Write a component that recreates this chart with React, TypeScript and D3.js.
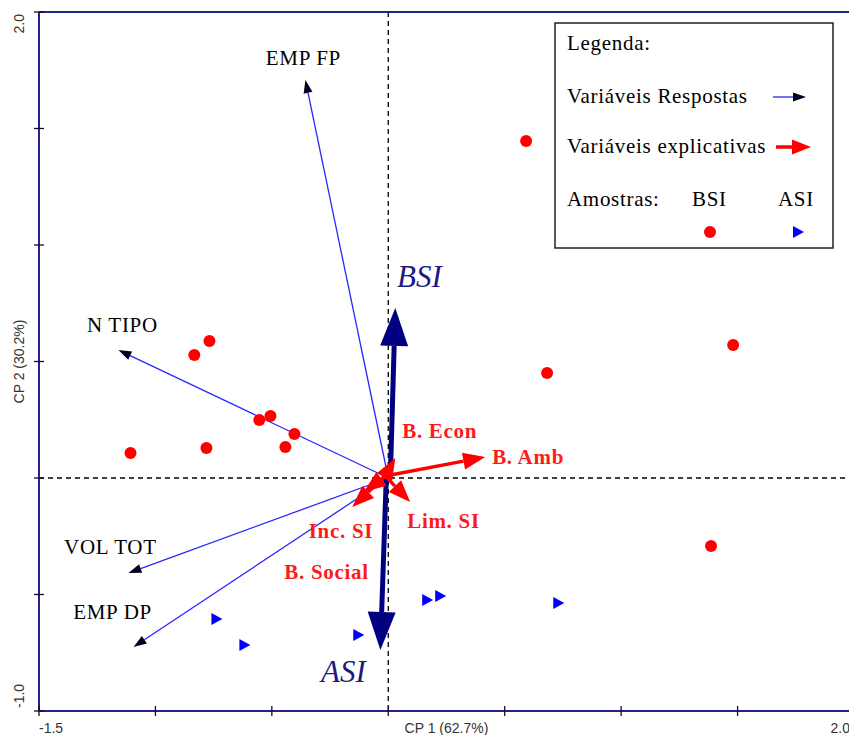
import React from "react";
import * as d3 from "d3";

// ---- data ----
const responseNames = ["EMP FP", "N TIPO", "VOL TOT", "EMP DP"];
const responseX = [-0.356, -1.159, -1.116, -1.094];
const responseY = [1.708, 0.549, -0.408, -0.725];

const explanatoryNames = ["B. Econ", "B. Amb", "Lim. SI", "Inc. SI", "B. Social"];
const explanatoryX = [0.03, 0.416, 0.094, -0.155, -0.105];
const explanatoryY = [0.086, 0.09, -0.103, -0.124, -0.06];

const groupNames = ["BSI", "ASI"];
const groupX = [0.03, -0.034];
const groupY = [0.73, -0.738];

const bsiX = [0.592, -0.768, -0.833, 0.682, 1.481, -0.506, -0.554, -0.403, -0.442, -0.781, -1.107, 1.386];
const bsiY = [1.446, 0.588, 0.528, 0.451, 0.571, 0.266, 0.249, 0.189, 0.133, 0.129, 0.107, -0.292];

const asiX = [-0.738, -0.618, -0.129, 0.167, 0.223, 0.73];
const asiY = [-0.605, -0.717, -0.674, -0.524, -0.506, -0.536];

const xTicks = [-1.5, -1.0, -0.5, 0, 0.5, 1.0, 1.5, 2.0];
const yTicks = [-1.0, -0.5, 0, 0.5, 1.0, 1.5, 2.0];
const xTitle = "CP 1 (62.7%)";
const yTitle = "CP 2 (30.2%)";

// ---- layout (label offsets in px) ----
const responseLabelOffset = [
  [-2, -15],
  [4, -18],
  [-18, -19],
  [-21, -28],
];
const explanatoryLabelPos = [
  [7, -20, "start"],
  [7, 7, "start"],
  [-3, 26, "start"],
  [21, 31, "end"],
  [5, 87, "end"],
];

function head(x1: number, y1: number, x2: number, y2: number, len: number, w: number) {
  const dx = x2 - x1, dy = y2 - y1;
  const L = Math.hypot(dx, dy) || 1;
  const ux = dx / L, uy = dy / L;
  const bx = x2 - ux * len, by = y2 - uy * len;
  const nx = -uy, ny = ux;
  return {
    pts: `${x2},${y2} ${bx + nx * w / 2},${by + ny * w / 2} ${bx - nx * w / 2},${by - ny * w / 2}`,
    bx,
    by,
  };
}

export default function App() {
  const x = d3.scaleLinear().domain([-1.5, 2.0]).range([39, 854]);
  const y = d3.scaleLinear().domain([-1.0, 2.0]).range([711, 12]);
  const ox = x(0), oy = y(0);
  const serif = "'Liberation Serif', 'Times New Roman', serif";
  const sans = "'Liberation Sans', Arial, sans-serif";
  const axisColor = "#23238c";
  const fs = 21;
  const ls = 0.7;

  const legendArrowBlue = head(773, 97, 806, 97, 13, 9);
  const legendArrowRed = head(776, 147, 811, 147, 19, 15);

  return (
    <svg width={849} height={735} style={{ position: "absolute", left: 0, top: 0, background: "#fff" }}>
      <rect width={849} height={735} fill="#fff" />
      {/* zero lines */}
      <line x1={ox} x2={ox} y1={y(2)} y2={y(-1)} stroke="#000" strokeWidth={1.3} strokeDasharray="5,4" />
      <line x1={x(-1.5)} x2={849} y1={oy} y2={oy} stroke="#000" strokeWidth={1.3} strokeDasharray="5,4" />

      {/* axes */}
      <line x1={x(-1.5)} x2={x(-1.5)} y1={y(2)} y2={y(-1)} stroke={axisColor} strokeWidth={2} />
      <line x1={x(-1.5)} x2={849} y1={y(-1)} y2={y(-1)} stroke={axisColor} strokeWidth={2} />
      <line x1={x(-1.5)} x2={849} y1={y(2)} y2={y(2)} stroke={axisColor} strokeWidth={2} />
      {xTicks.map((t) => (
        <line key={"xt" + t} x1={x(t)} x2={x(t)} y1={y(-1) - 5} y2={y(-1) + 5} stroke="#111" strokeWidth={1.3} />
      ))}
      {yTicks.map((t) => (
        <line key={"yt" + t} x1={x(-1.5) - 5} x2={x(-1.5) + 5} y1={y(t)} y2={y(t)} stroke="#111" strokeWidth={1.3} />
      ))}
      <text x={x(-1.5)} y={733} fontFamily={sans} fontSize={14} fill="#333">{"-1.5"}</text>
      <text x={x(2.0) - 4} y={733} fontFamily={sans} fontSize={14} fill="#333" textAnchor="end">{"2.0"}</text>
      <text x={(x(-1.5) + x(2.0)) / 2} y={733} fontFamily={sans} fontSize={14} fill="#333" textAnchor="middle">{xTitle}</text>
      <text transform={`translate(24,${y(2) + 2}) rotate(-90)`} fontFamily={sans} fontSize={14} fill="#333" textAnchor="end">{"2.0"}</text>
      <text transform={`translate(24,${y(-1) - 3}) rotate(-90)`} fontFamily={sans} fontSize={14} fill="#333" textAnchor="start">{"-1.0"}</text>
      <text transform={`translate(24,${y(0.5)}) rotate(-90)`} fontFamily={sans} fontSize={14} fill="#333" textAnchor="middle">{yTitle}</text>

      {/* response variable arrows */}
      {responseNames.map((n, i) => {
        const tx = x(responseX[i]), ty = y(responseY[i]);
        const h = head(ox, oy, tx, ty, 13, 9);
        return (
          <g key={n}>
            <line x1={ox} y1={oy} x2={h.bx} y2={h.by} stroke="#2626ff" strokeWidth={1.3} />
            <polygon points={h.pts} fill="#000022" />
            <text x={tx + responseLabelOffset[i][0]} y={ty + responseLabelOffset[i][1]} fontFamily={serif} fontSize={fs} letterSpacing={ls} fill="#000" textAnchor="middle">{n}</text>
          </g>
        );
      })}

      {/* samples */}
      {bsiX.map((v, i) => (
        <circle key={"b" + i} cx={x(v)} cy={y(bsiY[i])} r={6} fill="#ff0000" />
      ))}
      {asiX.map((v, i) => {
        const cx = x(v), cy = y(asiY[i]);
        return <polygon key={"a" + i} points={`${cx - 5},${cy - 6} ${cx + 6},${cy} ${cx - 5},${cy + 6}`} fill="#0000ff" />;
      })}

      {/* group arrows */}
      {groupNames.map((n, i) => {
        const tx = x(groupX[i]), ty = y(groupY[i]);
        const sx = ox + (i === 0 ? 2 : -2);
        const h = head(sx, oy, tx, ty, 38, 28);
        return (
          <g key={n}>
            <line x1={sx} y1={oy} x2={h.bx} y2={h.by} stroke="#000080" strokeWidth={5} />
            <polygon points={h.pts} fill="#000080" />
          </g>
        );
      })}
      <text x={397} y={287} fontFamily={serif} fontStyle="italic" fontSize={31} fill="#1a1a80">BSI</text>
      <text x={321} y={682} fontFamily={serif} fontStyle="italic" fontSize={31} fill="#1a1a80">ASI</text>

      {/* explanatory arrows */}
      {explanatoryNames.map((n, i) => {
        const tx = x(explanatoryX[i]), ty = y(explanatoryY[i]);
        const sx = ox - 3, sy = oy - 2;
        const h = head(sx, sy, tx, ty, 22, 17);
        return (
          <g key={n}>
            <line x1={sx} y1={sy} x2={h.bx} y2={h.by} stroke="#ff0000" strokeWidth={3.5} />
            <polygon points={h.pts} fill="#ff0000" />
          </g>
        );
      })}
      {explanatoryNames.map((n, i) => {
        const tx = x(explanatoryX[i]), ty = y(explanatoryY[i]);
        const p = explanatoryLabelPos[i];
        return (
          <text key={"l" + n} x={tx + (p[0] as number)} y={ty + (p[1] as number)} fontFamily={serif} fontWeight="bold" fontSize={fs} letterSpacing={ls} fill="#ff1a1a" textAnchor={p[2] as any}>{n}</text>
        );
      })}

      {/* legend */}
      <rect x={555} y={23} width={278} height={225} fill="#fff" stroke="#222" strokeWidth={1.5} />
      <text x={567} y={50} fontFamily={serif} fontSize={fs} letterSpacing={ls} fill="#000">Legenda:</text>
      <text x={567} y={103} fontFamily={serif} fontSize={fs} letterSpacing={ls} fill="#000">Variáveis Respostas</text>
      <line x1={773} y1={97} x2={legendArrowBlue.bx} y2={97} stroke="#2626ff" strokeWidth={1.3} />
      <polygon points={legendArrowBlue.pts} fill="#000022" />
      <text x={567} y={153} fontFamily={serif} fontSize={fs} letterSpacing={ls} fill="#000">Variáveis explicativas</text>
      <line x1={776} y1={147} x2={legendArrowRed.bx} y2={147} stroke="#ff0000" strokeWidth={3.5} />
      <polygon points={legendArrowRed.pts} fill="#ff0000" />
      <text x={567} y={206} fontFamily={serif} fontSize={fs} letterSpacing={ls} fill="#000">Amostras:</text>
      <text x={692} y={206} fontFamily={serif} fontSize={fs} letterSpacing={ls} fill="#000">BSI</text>
      <text x={778} y={206} fontFamily={serif} fontSize={fs} letterSpacing={ls} fill="#000">ASI</text>
      <circle cx={710} cy={232} r={6} fill="#ff0000" />
      <polygon points={`${793},${226} ${804},${232} ${793},${238}`} fill="#0000ff" />
    </svg>
  );
}
